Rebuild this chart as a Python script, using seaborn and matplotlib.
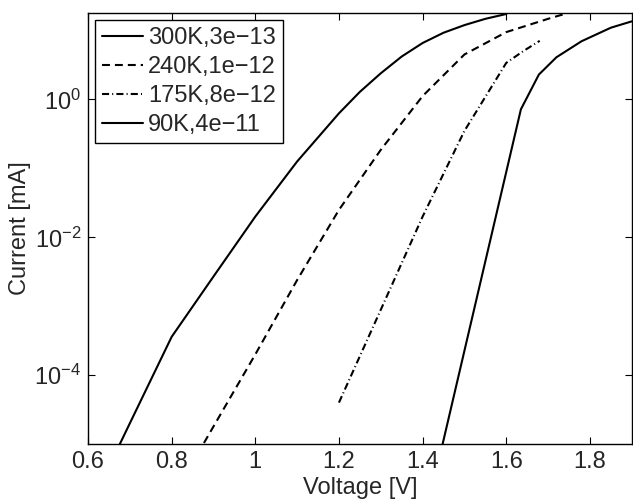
import numpy as np
import pandas as pd
import matplotlib
matplotlib.use("Agg")
import matplotlib.pyplot as plt
import seaborn as sns
from matplotlib.ticker import FixedLocator, LogFormatterMathtext, NullLocator

# ---- data ----
labels = ["300K,3e\u221213", "240K,1e\u221212", "175K,8e\u221212", "90K,4e\u221211"]

v_300 = [0.60, 0.70, 0.80, 0.90, 1.00, 1.10, 1.20, 1.25, 1.30, 1.35, 1.40, 1.45, 1.50, 1.55, 1.60]
i_300 = [1.1e-6, 2.0e-5, 3.6e-4, 2.7e-3, 2.0e-2, 1.26e-1, 6.3e-1, 1.29, 2.4, 4.2, 6.6, 9.3, 12.0, 14.8, 17.4]

v_240 = [0.80, 0.90, 1.00, 1.10, 1.20, 1.30, 1.40, 1.50, 1.60, 1.70, 1.75]
i_240 = [1.6e-6, 1.8e-5, 2.0e-4, 2.4e-3, 2.5e-2, 1.86e-1, 1.12, 4.5, 9.5, 14.8, 18.2]

v_175 = [1.20, 1.30, 1.40, 1.50, 1.60, 1.64, 1.68]
i_175 = [4.0e-5, 8.9e-4, 2.0e-2, 3.5e-1, 3.4, 5.0, 7.1]

v_90 = [1.42, 1.635, 1.678, 1.72, 1.78, 1.85, 1.90]
i_90 = [1.9e-6, 0.72, 2.3, 4.1, 7.0, 11.0, 13.6]

series = [(v_300, i_300), (v_240, i_240), (v_175, i_175), (v_90, i_90)]

sns.set_style("ticks")
plt.rcParams["font.family"] = ["Liberation Sans", "DejaVu Sans"]
plt.rcParams["mathtext.fontset"] = "custom"
plt.rcParams["mathtext.rm"] = "Liberation Sans"
plt.rcParams["mathtext.it"] = "Liberation Sans"

FS = 17

fig = plt.figure(figsize=(6.33, 4.99), dpi=100)
ax = fig.add_axes([0.139, 0.110, 0.859, 0.864])

styles = [
    dict(linestyle="-"),
    dict(linestyle=(0, (3.8, 2.4))),
    dict(linestyle=(0, (3.4, 1.5, 0.5, 1.5))),
    dict(linestyle="-"),
]

for (v, i), lab, st in zip(series, labels, styles):
    df = pd.DataFrame({"Voltage": v, "Current": i})
    sns.lineplot(data=df, x="Voltage", y="Current", ax=ax, color="black",
                 linewidth=1.5, label=lab, sort=False, **st)

ax.set_yscale("log")
ax.set_xlim(0.6, 1.9)
ax.set_ylim(1e-5, 18)
ax.xaxis.set_major_locator(FixedLocator([0.6, 0.8, 1.0, 1.2, 1.4, 1.6, 1.8]))
ax.set_xticklabels(["0.6", "0.8", "1", "1.2", "1.4", "1.6", "1.8"])
ax.yaxis.set_major_locator(FixedLocator([1e-4, 1e-2, 1e0]))
ax.yaxis.set_major_formatter(LogFormatterMathtext())
ax.yaxis.set_minor_locator(NullLocator())

ax.tick_params(which="both", direction="in", top=True, right=True,
               length=5, width=0.8, labelsize=FS, color="black", pad=5)
for s in ax.spines.values():
    s.set_color("black")
    s.set_linewidth(1.0)

ax.set_xlabel("Voltage [V]", fontsize=FS, labelpad=3)
ax.set_ylabel("Current [mA]", fontsize=FS, labelpad=2)

leg = ax.legend(loc="upper left", fontsize=FS, frameon=True, fancybox=False,
                edgecolor="black", framealpha=1, handlelength=1.75,
                handletextpad=0.2, labelspacing=0.3, borderpad=0.3,
                borderaxespad=0.3)
leg.get_frame().set_linewidth(1.0)

fig.savefig("out.png", dpi=100)
